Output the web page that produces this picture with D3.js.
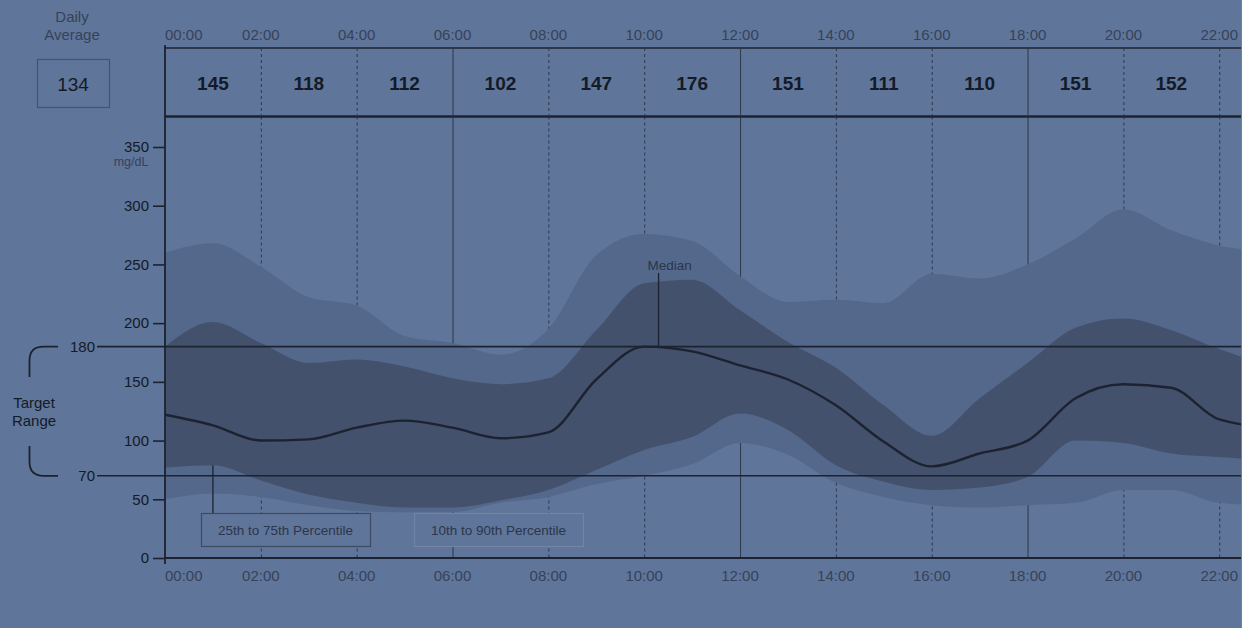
<!DOCTYPE html>
<html>
<head>
<meta charset="utf-8">
<script src="https://cdn.jsdelivr.net/npm/d3@7/dist/d3.min.js"></script>
<style>
  html, body { margin: 0; padding: 0; background: #5f7599; }
  svg { display: block; font-family: "Liberation Sans", Arial, sans-serif; }
</style>
</head>
<body>
<svg id="chart" width="1242" height="628"></svg>
<script>
// Ambulatory glucose profile, mg/dL by hour of day
const hours = [0, 1, 2, 3, 4, 5, 6, 7, 8, 9, 10, 11, 12, 13, 14, 15, 16, 17, 18, 19, 20, 21, 22, 23, 24];
const p10   = [50, 55, 52, 45, 40, 39, 39, 47, 52, 63, 70, 80, 98, 88, 64, 52, 45, 43, 45, 47, 58, 58, 47, 45, 50];
const p25   = [77, 79, 66, 54, 47, 43, 43, 49, 58, 75, 92, 103, 123, 109, 79, 65, 58, 60, 69, 100, 98, 89, 86, 83, 77];
const p50   = [122, 113, 100, 101, 111, 117, 111, 102, 107, 152, 180, 176, 164, 152, 130, 99, 78, 89, 100, 136, 148, 145, 118, 112, 122];
const p75   = [180, 201, 183, 166, 169, 163, 153, 148, 153, 194, 234, 237, 211, 184, 162, 130, 104, 136, 166, 196, 204, 194, 178, 167, 180];
const p90   = [260, 268, 248, 222, 215, 189, 183, 173, 195, 258, 276, 270, 240, 218, 220, 217, 242, 238, 250, 272, 297, 279, 266, 261, 260];

// Two-hour block averages, starting at each even hour
const blockStart = [0, 2, 4, 6, 8, 10, 12, 14, 16, 18, 20];
const blockAvg   = [145, 118, 112, 102, 147, 176, 151, 111, 110, 151, 152];

const dailyAverage = 134;
const yTicks = [0, 50, 100, 150, 200, 250, 300, 350];
const targetRange = [70, 180];
const timeTicks = [0, 2, 4, 6, 8, 10, 12, 14, 16, 18, 20, 22];
const timeLabels = ["00:00", "02:00", "04:00", "06:00", "08:00", "10:00", "12:00", "14:00", "16:00", "18:00", "20:00", "22:00"];

const W = 1242, H = 628;
const plotLeft = 165, plotRight = 1241, hourPx = 47.92;
const headerTop = 48, headerBottom = 116.5, plotBottom = 558;

const C = {
  bg: "#5f7599",
  outer: "#53688b",
  inner: "#44516d",
  line: "#1c2230",
  grid: "#2e384b",
  gray: "#37425a",
  legendText: "#2c364b",
  dark: "#141a26",
  boxFill: "#5f7599"
};

const svg = d3.select("#chart");
const x = d3.scaleLinear().domain([0, 24]).range([plotLeft, plotLeft + 24 * hourPx]);
const y = d3.scaleLinear().domain([0, 350]).range([plotBottom, 147]);

svg.append("rect").attr("width", W).attr("height", H).attr("fill", C.bg);

const defs = svg.append("defs");
defs.append("clipPath").attr("id", "plotClip").append("rect")
  .attr("x", plotLeft).attr("y", headerBottom).attr("width", plotRight - plotLeft).attr("height", plotBottom - headerBottom);

const plot = svg.append("g").attr("clip-path", "url(#plotClip)");

// vertical grid (solid at 6-hour marks, dotted otherwise)
function vline(g, h, y1, y2) {
  g.append("line")
    .attr("x1", x(h) + 0.5).attr("x2", x(h) + 0.5)
    .attr("y1", y1).attr("y2", y2)
    .attr("stroke", C.grid).attr("stroke-width", 1)
    .attr("stroke-dasharray", h % 6 === 0 ? null : "3,3");
}
timeTicks.forEach(h => { if (h > 0) vline(plot, h, headerBottom, plotBottom); });

const rows = hours.map((h, i) => ({ h, p10: p10[i], p25: p25[i], p50: p50[i], p75: p75[i], p90: p90[i] }));
const curve = d3.curveMonotoneX;

plot.append("path").datum(rows)
  .attr("d", d3.area().x(d => x(d.h)).y0(d => y(d.p10)).y1(d => y(d.p90)).curve(curve))
  .attr("fill", C.outer);
plot.append("path").datum(rows)
  .attr("d", d3.area().x(d => x(d.h)).y0(d => y(d.p25)).y1(d => y(d.p75)).curve(curve))
  .attr("fill", C.inner);

// target range lines
targetRange.forEach(v => {
  svg.append("line")
    .attr("x1", 97).attr("x2", plotRight)
    .attr("y1", y(v)).attr("y2", y(v))
    .attr("stroke", C.line).attr("stroke-width", 1.6);
  svg.append("text")
    .attr("x", 95).attr("y", y(v)).attr("dy", "0.35em")
    .attr("text-anchor", "end").attr("font-size", 15).attr("fill", C.dark)
    .text(v);
});

// median line
plot.append("path").datum(rows)
  .attr("d", d3.line().x(d => x(d.h)).y(d => y(d.p50)).curve(curve))
  .attr("fill", "none").attr("stroke", C.line).attr("stroke-width", 2.4);

// median callout
const medianAt = h => {
  const i = Math.floor(h), t = h - i;
  return p50[i] + (p50[i + 1] - p50[i]) * t;
};
const medH = 10.3;
svg.append("line")
  .attr("x1", x(medH)).attr("x2", x(medH))
  .attr("y1", 273).attr("y2", y(medianAt(medH)))
  .attr("stroke", C.line).attr("stroke-width", 1.3);
svg.append("text")
  .attr("x", x(medH) + 11).attr("y", 265).attr("dy", "0.35em")
  .attr("text-anchor", "middle").attr("font-size", 13.5).attr("fill", C.legendText)
  .text("Median");

// percentile legend boxes
svg.append("line")
  .attr("x1", x(1)).attr("x2", x(1))
  .attr("y1", y(p25[1])).attr("y2", 513)
  .attr("stroke", C.line).attr("stroke-width", 1.3);
const legends = [
  { label: "25th to 75th Percentile", x0: 201, x1: 370, stroke: "#3e4962" },
  { label: "10th to 90th Percentile", x0: 414, x1: 583, stroke: "#7385a6" }
];
legends.forEach(l => {
  svg.append("rect")
    .attr("x", l.x0 + 0.5).attr("y", 513.5).attr("width", l.x1 - l.x0).attr("height", 33)
    .attr("fill", C.boxFill).attr("stroke", l.stroke).attr("stroke-width", 1.2);
  svg.append("text")
    .attr("x", (l.x0 + l.x1) / 2).attr("y", 530).attr("dy", "0.35em")
    .attr("text-anchor", "middle").attr("font-size", 13.5).attr("fill", C.legendText)
    .text(l.label);
});

// header with block averages
const header = svg.append("g");
header.append("line").attr("x1", plotLeft).attr("x2", plotRight)
  .attr("y1", headerTop).attr("y2", headerTop)
  .attr("stroke", C.line).attr("stroke-width", 1.6);
header.append("line").attr("x1", plotLeft).attr("x2", plotRight)
  .attr("y1", headerBottom).attr("y2", headerBottom)
  .attr("stroke", C.line).attr("stroke-width", 2.6);
timeTicks.forEach(h => { if (h > 0) vline(header, h, headerTop, headerBottom); });
blockStart.forEach((h, i) => {
  header.append("text")
    .attr("x", x(h + 1)).attr("y", 83).attr("dy", "0.35em")
    .attr("text-anchor", "middle").attr("font-size", 19).attr("font-weight", "bold")
    .attr("fill", C.dark)
    .text(blockAvg[i]);
});

// time labels above header and below plot
[35, 576].forEach(ly => {
  timeTicks.forEach((h, i) => {
    svg.append("text")
      .attr("x", h === 0 ? plotLeft : x(h)).attr("y", ly).attr("dy", "0.35em")
      .attr("text-anchor", h === 0 ? "start" : "middle")
      .attr("font-size", 15).attr("fill", C.gray)
      .text(timeLabels[i]);
  });
});

// y axis
const yAxis = svg.append("g").attr("transform", `translate(${plotLeft},0)`)
  .call(d3.axisLeft(y).tickValues(yTicks).tickSize(12).tickPadding(4));
yAxis.select(".domain").remove();
yAxis.selectAll(".tick line").attr("stroke", C.line).attr("stroke-width", 1.6);
yAxis.selectAll(".tick text").attr("font-size", 15).attr("fill", C.dark)
  .attr("font-family", "Liberation Sans, Arial, sans-serif");
svg.append("line").attr("x1", plotLeft).attr("x2", plotLeft)
  .attr("y1", headerTop - 3).attr("y2", plotBottom + 6)
  .attr("stroke", C.line).attr("stroke-width", 1.8);
svg.append("line").attr("x1", plotLeft).attr("x2", plotRight)
  .attr("y1", plotBottom).attr("y2", plotBottom)
  .attr("stroke", C.line).attr("stroke-width", 1.8);
svg.append("text").attr("x", 131).attr("y", 162).attr("dy", "0.35em")
  .attr("text-anchor", "middle").attr("font-size", 12.5)
  .attr("fill", C.gray).text("mg/dL");

// daily average box
svg.append("text").attr("x", 72).attr("y", 17).attr("dy", "0.35em")
  .attr("text-anchor", "middle").attr("font-size", 15).attr("fill", C.gray).text("Daily");
svg.append("text").attr("x", 72).attr("y", 35).attr("dy", "0.35em")
  .attr("text-anchor", "middle").attr("font-size", 15).attr("fill", C.gray).text("Average");
svg.append("rect").attr("x", 37.5).attr("y", 59.5).attr("width", 72).attr("height", 48)
  .attr("fill", "none").attr("stroke", "#46536e").attr("stroke-width", 1.2);
svg.append("text").attr("x", 73).attr("y", 84).attr("dy", "0.35em")
  .attr("text-anchor", "middle").attr("font-size", 19).attr("fill", C.dark).text(dailyAverage);

// target range bracket
const yHi = y(targetRange[1]), yLo = y(targetRange[0]);
const r = 14, bx = 29.5;
svg.append("path")
  .attr("d", `M58,${yHi} H${bx + r} Q${bx},${yHi} ${bx},${yHi + r} V377`)
  .attr("fill", "none").attr("stroke", C.line).attr("stroke-width", 1.8);
svg.append("path")
  .attr("d", `M${bx},446 V${yLo - r} Q${bx},${yLo} ${bx + r},${yLo} H58`)
  .attr("fill", "none").attr("stroke", C.line).attr("stroke-width", 1.8);
svg.append("text").attr("x", 34).attr("y", 403).attr("dy", "0.35em")
  .attr("text-anchor", "middle").attr("font-size", 15).attr("fill", C.dark).text("Target");
svg.append("text").attr("x", 34).attr("y", 421).attr("dy", "0.35em")
  .attr("text-anchor", "middle").attr("font-size", 15).attr("fill", C.dark).text("Range");

// right frame edge
svg.append("line").attr("x1", 1241.5).attr("x2", 1241.5).attr("y1", 0).attr("y2", H)
  .attr("stroke", "#6a80a4").attr("stroke-width", 1);
</script>
</body>
</html>
